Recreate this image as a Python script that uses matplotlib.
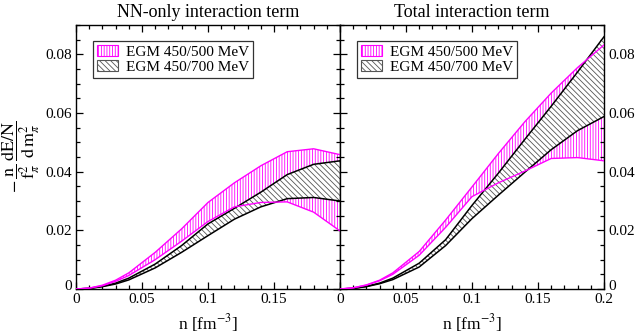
import matplotlib
matplotlib.use("Agg")
import matplotlib.pyplot as plt
import matplotlib.transforms as mtransforms
from matplotlib.patches import Patch
from matplotlib.ticker import MultipleLocator, FuncFormatter

# density grid [fm^-3]
n = [0.0, 0.01, 0.02, 0.03, 0.04, 0.06, 0.08, 0.10, 0.12, 0.14, 0.16, 0.18, 0.20]

# NN-only interaction term
nn_500_hi = [0, 0.0003, 0.0013, 0.0030, 0.0055, 0.0125, 0.0205, 0.0295, 0.0362, 0.0420, 0.0468, 0.0478, 0.0458]
nn_500_lo = [0, 0.0003, 0.0011, 0.0026, 0.0046, 0.0100, 0.0163, 0.0230, 0.0280, 0.0295, 0.0297, 0.0262, 0.0198]
nn_700_hi = [0, 0.0002, 0.0009, 0.0020, 0.0037, 0.0085, 0.0148, 0.0222, 0.0275, 0.0330, 0.0390, 0.0425, 0.0437]
nn_700_lo = [0, 0.0002, 0.0008, 0.0017, 0.0031, 0.0072, 0.0125, 0.0182, 0.0238, 0.0280, 0.0308, 0.0312, 0.0300]

# Total interaction term
tot_500_hi = [0, 0.0004, 0.0014, 0.0030, 0.0055, 0.0128, 0.0235, 0.0348, 0.0462, 0.0570, 0.0668, 0.0755, 0.0832]
tot_500_lo = [0, 0.0004, 0.0013, 0.0028, 0.0050, 0.0115, 0.0210, 0.0315, 0.0362, 0.0402, 0.0445, 0.0448, 0.0437]
tot_700_hi = [0, 0.0002, 0.0009, 0.0020, 0.0037, 0.0088, 0.0168, 0.0285, 0.0395, 0.0510, 0.0623, 0.0740, 0.0860]
tot_700_lo = [0, 0.0002, 0.0008, 0.0018, 0.0032, 0.0075, 0.0148, 0.0240, 0.0320, 0.0398, 0.0475, 0.0540, 0.0588]

titles = ["NN-only interaction term", "Total interaction term"]
labels = ["EGM 450/500 MeV", "EGM 450/700 MeV"]
xticks = [0, 0.05, 0.1, 0.15, 0.2]
yticks = [0, 0.02, 0.04, 0.06, 0.08]

plt.rcParams['font.family'] = ['Liberation Serif', 'DejaVu Serif']
plt.rcParams['mathtext.fontset'] = 'stix'
plt.rcParams['hatch.linewidth'] = 0.6

MAG = '#ff00ff'
HGRAY = '#555555'

fig = plt.figure(figsize=(6.36, 3.33), dpi=100)
W, H = 636, 333
axL = fig.add_axes([76 / W, (H - 289) / H, 264 / W, 264 / H])
axR = fig.add_axes([340 / W, (H - 289) / H, 264 / W, 264 / H])

fmt = FuncFormatter(lambda v, p: ('%g' % round(v, 4)))

data = [(nn_500_hi, nn_500_lo, nn_700_hi, nn_700_lo),
        (tot_500_hi, tot_500_lo, tot_700_hi, tot_700_lo)]

for i, (ax, (a_hi, a_lo, b_hi, b_lo)) in enumerate(zip([axL, axR], data)):
    ax.fill_between(n, a_lo, a_hi, facecolor='white', edgecolor=MAG,
                    hatch='||||||', linewidth=0, zorder=1)
    ax.fill_between(n, b_lo, b_hi, facecolor='white', edgecolor=HGRAY,
                    hatch='\\\\\\\\\\\\', linewidth=0, zorder=2)
    ax.plot(n, a_hi, color=MAG, lw=1.0, zorder=4)
    ax.plot(n, a_lo, color=MAG, lw=1.0, zorder=4)
    ax.plot(n, b_hi, color='black', lw=1.1, zorder=3)
    ax.plot(n, b_lo, color='black', lw=1.1, zorder=3)

    ax.set_xlim(0, 0.2)
    ax.set_ylim(0, 0.09)
    ax.set_xticks(xticks)
    ax.set_yticks(yticks)
    ax.xaxis.set_minor_locator(MultipleLocator(0.01))
    ax.yaxis.set_minor_locator(MultipleLocator(0.005))
    ax.xaxis.set_major_formatter(fmt)
    ax.yaxis.set_major_formatter(fmt)
    ax.tick_params(which='both', direction='in', top=True, bottom=True,
                   left=True, right=True, labelsize=11, width=0.9, pad=3)
    ax.tick_params(which='major', length=5)
    ax.tick_params(which='minor', length=3)
    for s in ax.spines.values():
        s.set_linewidth(1.0)
    ax.set_title(titles[i], fontsize=13, pad=6)
    ax.set_xlabel(r'n [fm$^{-3}$]', fontsize=12.5, labelpad=4)

    handles = [Patch(facecolor='white', edgecolor=MAG, hatch='||||||', lw=0.8),
               Patch(facecolor='white', edgecolor=HGRAY, hatch='\\\\\\\\\\\\', lw=0.8)]
    leg = ax.legend(handles, labels, loc='upper left', bbox_to_anchor=(0.065, 0.94),
                    fontsize=11, frameon=True, fancybox=False, edgecolor='black',
                    handlelength=1.4, handleheight=0.8, handletextpad=0.5,
                    borderpad=0.25, labelspacing=0.05, borderaxespad=0)
    leg.get_frame().set_linewidth(0.9)

# left panel: hide 0.2 label
axL.set_xticklabels(['0', '0.05', '0.1', '0.15', ''])
axR.tick_params(labelleft=False, labelright=True)

# nudge the corner "0" labels up a little so they do not collide with x labels
fig.canvas.draw()
shift = mtransforms.ScaledTranslation(0, 3 / 72, fig.dpi_scale_trans)
for ax in (axL, axR):
    for t in ax.yaxis.get_majorticklabels():
        if t.get_text() == '0':
            t.set_transform(t.get_transform() + shift)

axL.set_ylabel(r'$\mathrm{-}\,\dfrac{\mathrm{n}}{\mathrm{f}_\pi^{2}}\,\dfrac{\mathrm{dE/N}}{\mathrm{d\,m}_\pi^{2}}$',
               fontsize=13, labelpad=2)

fig.savefig('out.png', dpi=100)
